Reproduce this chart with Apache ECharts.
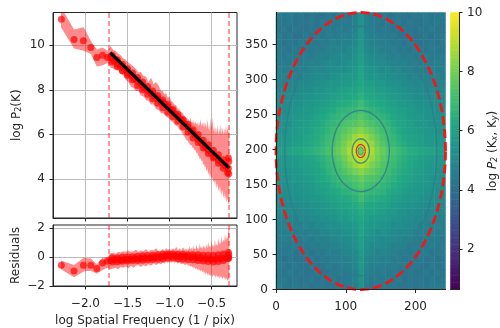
<!DOCTYPE html>
<html><head><meta charset="utf-8">
<style>html,body{margin:0;padding:0;background:#fff}#c{width:500px;height:328px}</style>
<script src="https://cdn.jsdelivr.net/npm/echarts@6/dist/echarts.min.js"></script>
</head><body><div id="c"></div>
<script>
const bandX=[-2.29,-2.135,-2.02,-1.936,-1.864,-1.797,-1.738,
-1.70,-1.67,-1.64,-1.61,-1.58,-1.55,-1.52,-1.49,-1.46,-1.43,-1.40,-1.37,-1.34,-1.31,-1.28,-1.25,-1.22,-1.19,-1.16,-1.13,-1.10,
-1.08,-1.06,-1.04,-1.02,-1.00,-0.98,-0.96,-0.94,-0.92,-0.90,-0.88,-0.86,-0.84,-0.82,-0.80,
-0.79,-0.78,-0.77,-0.76,-0.75,-0.74,-0.73,-0.72,-0.71,-0.70,
-0.69,-0.68,-0.67,-0.66,-0.65,-0.64,-0.63,-0.62,-0.61,-0.60,
-0.59,-0.58,-0.57,-0.56,-0.55,-0.54,-0.53,-0.52,-0.51,-0.50,
-0.49,-0.48,-0.47,-0.46,-0.45,-0.44,-0.43,-0.42,-0.41,-0.40,
-0.39,-0.38,-0.37,-0.36,-0.35,-0.34,-0.33,-0.32,-0.31,-0.30,-0.29];
const powerHi=[11.7,10.7,10.8,10.2,9.8,9.9,9.75,
9.95,9.78,9.75,9.62,9.55,9.40,9.35,9.22,9.15,9.05,8.95,8.78,8.80,8.62,8.60,8.35,8.55,8.25,8.35,8.20,7.95,
7.95,7.80,7.85,7.65,7.70,7.50,7.45,7.35,7.30,7.15,7.10,7.00,6.95,6.80,6.75,
6.75,6.65,6.70,6.60,6.75,6.55,6.60,6.50,6.65,6.45,
6.60,6.45,6.55,6.35,6.60,6.40,6.70,6.35,6.55,6.35,
6.60,6.30,6.55,6.25,6.70,6.20,6.45,6.15,6.75,6.30,
6.80,6.15,6.40,6.00,6.35,6.05,6.45,5.95,6.30,6.05,
6.45,6.00,6.35,5.95,6.30,6.00,6.40,6.05,6.35,6.00,6.50];
const powerLo=[10.8,9.85,9.75,9.6,9.05,9.1,9.2,
9.00,8.95,8.90,8.85,8.70,8.65,8.45,8.35,8.15,8.10,7.95,7.95,7.75,7.70,7.55,7.50,7.35,7.35,7.15,7.10,6.95,
6.95,6.90,6.80,6.75,6.70,6.60,6.55,6.45,6.40,6.35,6.20,6.15,6.00,5.90,5.75,
5.75,5.70,5.60,5.60,5.50,5.55,5.40,5.45,5.35,5.30,
5.30,5.15,5.20,5.05,5.05,4.90,4.95,4.80,4.85,4.65,
4.70,4.50,4.60,4.35,4.50,4.20,4.35,4.05,4.25,3.95,
4.10,3.85,4.00,3.70,3.95,3.60,3.80,3.45,3.70,3.35,
3.60,3.25,3.55,3.15,3.40,3.05,3.30,2.95,3.15,2.90,2.85];
const residHi=[-0.25,-0.55,-0.05,-0.1,-0.5,-0.05,0,
0.25,0.30,0.20,0.35,0.30,0.40,0.35,0.45,0.35,0.40,0.50,0.35,0.45,0.40,0.55,0.35,0.50,0.45,0.60,0.40,0.45,
0.55,0.45,0.60,0.50,0.55,0.45,0.60,0.50,0.70,0.45,0.60,0.45,0.65,0.50,0.55,
0.45,0.60,0.50,0.75,0.50,0.65,0.45,0.80,0.55,0.60,
0.50,0.85,0.55,0.65,0.50,0.95,0.60,0.70,0.55,0.80,
0.60,0.75,0.55,0.85,0.60,1.05,0.65,0.80,0.60,1.15,
0.70,0.85,0.65,1.20,0.75,0.90,0.75,1.30,0.85,1.05,
0.90,1.45,0.95,1.20,1.05,1.60,1.10,1.40,1.25,1.85,1.95];
const residLo=[-0.85,-1.4,-1.0,-0.95,-1.15,-0.9,-0.75,
-0.85,-0.80,-0.75,-0.85,-0.70,-0.75,-0.65,-0.80,-0.60,-0.75,-0.60,-0.55,-0.70,-0.55,-0.65,-0.50,-0.60,-0.45,-0.55,-0.45,-0.50,
-0.40,-0.45,-0.35,-0.40,-0.35,-0.40,-0.30,-0.40,-0.35,-0.45,-0.40,-0.50,-0.45,-0.55,-0.50,
-0.55,-0.50,-0.65,-0.55,-0.70,-0.60,-0.75,-0.65,-0.80,-0.70,
-0.85,-0.75,-0.90,-0.80,-0.95,-0.85,-1.00,-0.90,-1.05,-0.95,
-1.15,-1.00,-1.20,-1.05,-1.25,-1.10,-1.30,-1.15,-1.35,-1.20,
-1.40,-1.20,-1.35,-1.25,-1.45,-1.25,-1.40,-1.30,-1.50,-1.30,
-1.45,-1.35,-1.55,-1.35,-1.50,-1.40,-1.60,-1.45,-1.65,-1.50,-1.75];
const pointX=[-2.286,-2.135,-2.024,-1.936,-1.864,-1.797,-1.738,
-1.70,-1.66,-1.62,-1.58,-1.54,-1.50,-1.46,-1.42,-1.38,-1.34,-1.30,-1.26,-1.22,-1.18,-1.14,-1.10,-1.06,-1.02,-0.98,-0.94,-0.90,-0.86,-0.82,-0.78,-0.74,-0.70,-0.66,-0.62,-0.58,-0.54,-0.50,-0.46,-0.42,-0.38,-0.34,-0.30,
-0.31,-0.30,-0.296,-0.296,
-1.68,-1.62,-1.56,-1.50,-1.44,-1.38,-1.32,-1.26,-1.20,-1.14,-1.08,-1.02,-0.96,-0.90,-0.84,-0.78,-0.72,-0.66,-0.60,-0.54,-0.48,-0.42,-0.36,
-1.68,-1.62,-1.56,-1.50,-1.44,-1.38,-1.32,-1.26,-1.20,-1.14,-1.08,-1.02,-0.96,-0.90,-0.84,-0.78,-0.72,-0.66,-0.60,-0.54,-0.48,-0.42,-0.36];
const pointPower=[11.16,10.25,10.2,9.9,9.45,9.55,9.45,
9.45,9.30,9.15,9.05,8.90,8.75,8.65,8.50,8.40,8.25,8.10,7.98,7.85,7.72,7.60,7.48,7.38,7.25,7.10,6.95,6.80,6.65,6.50,6.33,6.15,5.98,5.80,5.62,5.45,5.30,5.15,5.00,4.87,4.74,4.62,4.50,
4.30,4.95,4.80,4.25,
9.55,9.35,9.15,8.95,8.75,8.55,8.35,8.15,7.95,7.75,7.55,7.35,7.12,6.90,6.68,6.45,6.22,6.00,5.75,5.55,5.30,5.10,4.88,
9.25,9.05,8.85,8.65,8.45,8.20,8.00,7.80,7.60,7.40,7.20,7.00,6.80,6.60,6.35,6.10,5.85,5.65,5.40,5.15,4.95,4.72,4.50];
const pointResid=[-0.57,-0.96,-0.57,-0.57,-0.79,-0.42,-0.30,
-0.25,-0.20,-0.20,-0.22,-0.18,-0.15,-0.15,-0.12,-0.12,-0.10,-0.08,-0.08,-0.05,-0.03,0,0.02,0.05,0.08,0.08,0.06,0.05,0.05,0.05,0.03,0,-0.03,-0.05,-0.08,-0.12,-0.13,-0.15,-0.14,-0.12,-0.10,-0.07,-0.05,
-0.10,0.30,0.15,-0.08,
-0.05,-0.05,0,0,0.02,0.05,0.08,0.10,0.12,0.15,0.18,0.20,0.20,0.18,0.18,0.15,0.15,0.15,0.12,0.12,0.12,0.15,0.20,
-0.35,-0.33,-0.30,-0.28,-0.25,-0.25,-0.22,-0.20,-0.18,-0.15,-0.12,-0.08,-0.08,-0.12,-0.15,-0.18,-0.20,-0.25,-0.28,-0.32,-0.35,-0.32,-0.25];
const fitX=[-1.705,-0.29];
const fitY=[9.66,4.5];
const fitRange=[-1.72,-0.296];
const freqTicks=[-2,-1.5,-1,-0.5];
const powerTicks=[4,6,8,10];
const residTicks=[-2,0,2];
const colorTicks=[2,4,6,8,10];
const specXTicks=[0,100,200];
const specYTicks=[0,50,100,150,200,250,300,350];
const specCenter=[121.5,198];
const redEllipses=[[121.5,198],[6.5,9.5]];
const contourEllipses=[[109,178],[41,58],[12.3,17.5],[4,6]];
// upper half of the 2-D spectrum (top row first); a real image's spectrum is point-symmetric
const specUpper=[
[4.6,4.4,4.5,4.3,4.4,4.2,4.4,4.3,4.2,4.4,4.3,4.5,4.4,4.3,4.6,5.3,4.7,4.4,4.3,4.5,4.3,4.2,4.4,4.3,4.2,4.4,4.3,4.5,4.3,4.4,4.6],
[4.4,4.3,4.5,4.2,4.4,4.3,4.4,4.2,4.5,4.3,4.5,4.4,4.5,4.4,4.7,5.4,4.8,4.5,4.4,4.3,4.5,4.3,4.4,4.2,4.4,4.3,4.2,4.4,4.3,4.5,4.4],
[4.3,4.5,4.2,4.4,4.3,4.2,4.4,4.3,4.4,4.5,4.4,4.6,4.5,4.6,4.8,5.5,4.7,4.6,4.4,4.5,4.4,4.3,4.2,4.4,4.3,4.2,4.4,4.3,4.5,4.3,4.4],
[4.5,4.3,4.4,4.2,4.3,4.4,4.2,4.5,4.4,4.6,4.5,4.6,4.7,4.6,4.9,5.6,4.9,4.7,4.6,4.5,4.4,4.5,4.3,4.2,4.4,4.2,4.3,4.4,4.2,4.4,4.5],
[4.4,4.2,4.4,4.3,4.5,4.3,4.5,4.4,4.6,4.5,4.7,4.6,4.8,4.8,5.0,5.6,5.0,4.8,4.7,4.6,4.6,4.4,4.5,4.3,4.5,4.3,4.2,4.3,4.4,4.2,4.5],
[4.5,4.4,4.3,4.5,4.4,4.5,4.4,4.6,4.5,4.7,4.8,4.9,4.8,5.0,5.2,5.7,5.1,4.9,4.9,4.7,4.6,4.7,4.4,4.5,4.3,4.5,4.4,4.3,4.5,4.4,4.4],
[4.6,4.4,4.6,4.4,4.5,4.6,4.5,4.7,4.8,4.7,4.9,5.0,5.1,5.0,5.3,5.8,5.3,5.1,5.0,4.9,4.8,4.6,4.7,4.5,4.6,4.4,4.5,4.6,4.4,4.5,4.6],
[4.5,4.6,4.5,4.7,4.5,4.7,4.8,4.7,4.9,5.0,5.1,5.0,5.2,5.3,5.4,5.9,5.4,5.2,5.1,5.1,4.9,4.8,4.7,4.8,4.5,4.7,4.5,4.6,4.5,4.7,4.6],
[4.7,4.5,4.7,4.6,4.8,4.7,4.9,5.0,4.9,5.1,5.2,5.3,5.2,5.4,5.6,6.0,5.5,5.4,5.3,5.1,5.2,4.9,5.0,4.7,4.8,4.6,4.7,4.5,4.7,4.6,4.7],
[4.7,4.8,4.6,4.8,4.7,4.9,5.0,5.1,5.2,5.1,5.3,5.4,5.5,5.6,5.7,6.1,5.7,5.5,5.5,5.3,5.2,5.2,5.0,5.0,4.8,4.9,4.7,4.8,4.6,4.8,4.7],
[4.8,4.7,4.9,4.8,5.0,5.0,5.1,5.2,5.3,5.4,5.5,5.6,5.7,5.7,5.9,6.2,5.9,5.8,5.6,5.6,5.4,5.3,5.3,5.1,5.1,4.9,5.0,4.8,4.9,4.7,4.9],
[4.9,4.8,5.0,4.9,5.1,5.2,5.2,5.4,5.4,5.6,5.6,5.8,5.9,6.0,6.1,6.4,6.1,6.0,5.8,5.8,5.6,5.5,5.4,5.3,5.2,5.1,5.1,4.9,5.0,4.8,5.0],
[5.0,5.0,5.1,5.1,5.2,5.3,5.4,5.5,5.6,5.7,5.9,6.0,6.1,6.2,6.3,6.6,6.3,6.2,6.1,6.0,5.8,5.7,5.6,5.4,5.4,5.2,5.2,5.1,5.1,5.0,5.1],
[5.1,5.1,5.2,5.3,5.3,5.5,5.5,5.7,5.8,5.9,6.1,6.3,6.4,6.5,6.6,7.0,6.6,6.4,6.3,6.2,6.0,5.9,5.7,5.6,5.5,5.4,5.3,5.3,5.2,5.1,5.2],
[5.2,5.2,5.3,5.4,5.5,5.6,5.7,5.8,6.0,6.2,6.3,6.6,6.7,6.8,6.9,7.3,6.9,6.7,6.6,6.4,6.2,6.0,5.9,5.8,5.6,5.5,5.4,5.4,5.3,5.2,5.3],
[5.2,5.3,5.4,5.5,5.6,5.7,5.8,6.0,6.2,6.4,6.6,6.8,7.0,7.1,7.2,7.5,7.2,7.0,6.9,6.7,6.5,6.2,6.0,5.9,5.7,5.6,5.5,5.4,5.4,5.3,5.3],
[5.3,5.4,5.4,5.6,5.7,5.8,6.0,6.1,6.3,6.6,6.8,7.0,7.3,7.4,7.5,7.8,7.5,7.3,7.1,6.9,6.7,6.4,6.2,6.0,5.8,5.7,5.6,5.5,5.4,5.4,5.4],
[5.4,5.4,5.5,5.6,5.8,5.9,6.1,6.3,6.5,6.7,7.0,7.3,7.5,7.8,8.0,8.3,8.0,7.7,7.4,7.1,6.9,6.6,6.3,6.1,5.9,5.8,5.7,5.5,5.5,5.4,5.4],
[5.5,5.5,5.6,5.7,5.8,6.0,6.2,6.4,6.6,6.9,7.1,7.4,7.8,8.1,8.6,8.9,8.6,8.1,7.7,7.3,7.0,6.8,6.5,6.2,6.0,5.9,5.8,5.6,5.6,5.5,5.5],
[5.6,5.6,5.7,5.8,5.9,6.1,6.3,6.5,6.7,7.0,7.3,7.6,8.0,8.5,9.0,9.0,9.0,8.5,7.9,7.5,7.2,6.9,6.6,6.4,6.1,6.0,5.8,5.7,5.6,5.6,5.6],
[5.9,5.9,6.0,6.1,6.2,6.4,6.5,6.7,6.9,7.2,7.5,7.8,8.2,8.8,9.2,7.9,9.2,8.8,8.2,7.8,7.5,7.2,6.9,6.7,6.5,6.4,6.2,6.1,6.0,5.9,5.9]
];
const viridis=['#440154','#482475','#414487','#355f8d','#2a788e','#21918c','#22a884','#44bf70','#7ad151','#bddf26','#fde725'];
const colorMin=0.63,colorMax=10;

const font='DejaVu Sans',ink='#262626',fs=12;
const fmt=v=>(v<0?'\u2212':'')+Math.abs(v).toFixed(1);
const fmtInt=v=>(v<0?'\u2212':'')+Math.abs(v);
const split={show:true,lineStyle:{color:'#bcbcbc',width:1}};
const lab=(o)=>Object.assign({color:ink,fontFamily:font,fontSize:fs,margin:8},o||{});
const line={show:true,onZero:false,lineStyle:{color:ink,width:1}};
const tick=(c)=>({show:true,length:3.5,lineStyle:{color:ink,width:1},customValues:c});
const nameStyle={color:ink,fontFamily:font,fontSize:fs};

const nCols=specUpper[0].length,nRows=specUpper.length*2-1;
const heat=[];
specUpper.forEach((row,i)=>{const r=nRows-1-i;row.forEach((v,c)=>{heat.push([c,r,v]);if(i<specUpper.length-1)heat.push([nCols-1-c,i,v]);});});
const range=n=>Array.from({length:n},(_,i)=>i);
const ellipse=(sx,sy)=>range(181).map(i=>{const a=i/180*2*Math.PI;return [specCenter[0]+sx*Math.cos(a),specCenter[1]+sy*Math.sin(a)];});
const levels=range(80).map(i=>colorMin+(colorMax-colorMin)*(i+0.5)/80);

function band(name,lo,hi,xi,yi){
  return {type:'custom',name,xAxisIndex:xi,yAxisIndex:yi,clip:true,silent:true,z:2,
    encode:{x:0,y:[1,2]},
    data:bandX.map((x,i)=>[x,lo[i],hi[i]]),
    renderItem:(p,api)=>{
      if(p.dataIndex!==0) return null;
      const upper=bandX.map((x,i)=>api.coord([x,hi[i]]));
      const lower=bandX.map((x,i)=>api.coord([x,lo[i]])).reverse();
      return {type:'polygon',shape:{points:upper.concat(lower)},style:{fill:'rgba(255,0,0,0.45)'}};
    },
    markLine:{silent:true,symbol:'none',label:{show:false},lineStyle:{color:'rgba(255,0,0,0.5)',width:1.6,type:[5,3]},data:fitRange.map(x=>({xAxis:x}))}
  };
}
const dotColor='rgba(255,0,0,0.85)';
const series=[
  band('P band',powerLo,powerHi,0,0),
  {type:'scatter',name:'P2',xAxisIndex:0,yAxisIndex:0,symbolSize:7,itemStyle:{color:dotColor},data:pointX.map((x,i)=>[x,pointPower[i]]),z:3},
  {type:'line',name:'fit',xAxisIndex:0,yAxisIndex:0,symbol:'none',lineStyle:{color:'#000',width:3.2},data:fitX.map((x,i)=>[x,fitY[i]]),z:4},
  band('R band',residLo,residHi,1,1),
  {type:'scatter',name:'Residuals',xAxisIndex:1,yAxisIndex:1,symbolSize:7,itemStyle:{color:dotColor},data:pointX.map((x,i)=>[x,pointResid[i]]),z:3},
  {type:'heatmap',name:'spectrum',xAxisIndex:3,yAxisIndex:3,data:heat,progressive:0,z:2},
  ...contourEllipses.map((e,i)=>({type:'line',xAxisIndex:2,yAxisIndex:2,symbol:'none',lineStyle:{color:i===3?'rgba(40,150,140,0.8)':'rgba(47,122,140,0.8)',width:i===3?1:1.4},data:ellipse(e[0],e[1]),z:3})),
  {type:'line',xAxisIndex:2,yAxisIndex:2,symbol:'none',lineStyle:{color:'#f01818',width:2.8,type:[9,4]},data:ellipse(redEllipses[0][0],redEllipses[0][1]),z:4},
  {type:'line',xAxisIndex:2,yAxisIndex:2,symbol:'none',lineStyle:{color:'#e8262a',width:1.2},data:ellipse(redEllipses[1][0],redEllipses[1][1]),z:4},
  {type:'heatmap',name:'colorbar',xAxisIndex:4,yAxisIndex:4,data:levels.map((v,i)=>[0,i,v]),progressive:0,z:2}
];
const heatIdx=series.map((s,i)=>s.type==='heatmap'?i:-1).filter(i=>i>=0);

const option={
  animation:false,backgroundColor:'#fff',
  textStyle:{fontFamily:font},
  visualMap:{show:false,type:'continuous',seriesIndex:heatIdx,min:colorMin,max:colorMax,inRange:{color:viridis}},
  grid:[
    {left:53,top:12.5,width:184,height:205.5,show:true,borderColor:ink,borderWidth:1,backgroundColor:'transparent'},
    {left:53,top:225,width:184,height:64.5,show:true,borderColor:ink,borderWidth:1,backgroundColor:'transparent'},
    {left:276,top:12.5,width:169.5,height:277},
    {left:450.5,top:12.5,width:9,height:277}
  ],
  xAxis:[
    {type:'value',gridIndex:0,min:-2.385,max:-0.198,axisLine:line,axisTick:tick(freqTicks),axisLabel:{show:false,customValues:freqTicks},splitLine:split},
    {type:'value',gridIndex:1,min:-2.385,max:-0.198,axisLine:line,axisTick:tick(freqTicks),axisLabel:lab({margin:12,customValues:freqTicks,formatter:fmt}),splitLine:split,
      name:'log Spatial Frequency (1 / pix)',nameLocation:'middle',nameGap:29,nameTextStyle:nameStyle},
    {type:'value',gridIndex:2,min:0,max:243,axisLine:line,axisTick:tick(specXTicks),axisLabel:lab({margin:11,customValues:specXTicks,formatter:fmtInt}),splitLine:{show:false},z:10},
    {type:'category',gridIndex:2,position:'top',data:range(nCols),axisLine:{show:true,lineStyle:{color:ink,width:1}},axisTick:{show:false},axisLabel:{show:false},splitLine:{show:false},z:10},
    {type:'category',gridIndex:3,data:[0],axisLine:{show:true,lineStyle:{color:ink,width:1}},axisTick:{show:false},axisLabel:{show:false},splitLine:{show:false},z:10}
  ],
  yAxis:[
    {type:'value',gridIndex:0,min:2.27,max:11.46,axisLine:line,axisTick:tick(powerTicks),axisLabel:lab({customValues:powerTicks,formatter:fmtInt}),splitLine:split,
      name:'log P{s|2}(K)',nameLocation:'middle',nameGap:30,nameTextStyle:Object.assign({},nameStyle,{rich:{s:{fontSize:8,fontFamily:font,color:ink,verticalAlign:'bottom',lineHeight:12}}})},
    {type:'value',gridIndex:1,min:-2,max:2.2,axisLine:line,axisTick:tick(residTicks),axisLabel:lab({customValues:residTicks,formatter:fmtInt}),splitLine:split,
      name:'Residuals',nameLocation:'middle',nameGap:31,nameTextStyle:nameStyle},
    {type:'value',gridIndex:2,min:0,max:396,axisLine:line,axisTick:tick(specYTicks),axisLabel:lab({customValues:specYTicks,formatter:fmtInt}),splitLine:{show:false},z:10},
    {type:'category',gridIndex:2,position:'right',data:range(nRows),axisLine:{show:true,lineStyle:{color:ink,width:1}},axisTick:{show:false},axisLabel:{show:false},splitLine:{show:false},z:10},
    {type:'category',gridIndex:3,position:'left',data:levels.map((_,i)=>i),axisLine:{show:false},axisTick:{show:false},axisLabel:{show:false},splitLine:{show:false}},
    {type:'value',gridIndex:3,position:'right',min:colorMin,max:colorMax,axisLine:{show:true,onZero:false,lineStyle:{color:ink,width:1}},axisTick:tick(colorTicks),axisLabel:lab({customValues:colorTicks,formatter:fmtInt}),splitLine:{show:false},z:10,
      name:'log {i|P}{s|2} (K{si|x}, K{si|y})',nameLocation:'middle',nameGap:28,nameRotate:90,
      nameTextStyle:Object.assign({},nameStyle,{rich:{i:{fontStyle:'italic',fontSize:fs,fontFamily:font,color:ink},s:{fontSize:8,fontFamily:font,color:ink,fontStyle:'italic',verticalAlign:'bottom',lineHeight:12},si:{fontSize:8,fontFamily:font,color:ink,fontStyle:'italic',verticalAlign:'bottom',lineHeight:12}}})}
  ],
  series
};
const chart=echarts.init(document.getElementById('c'),null,{renderer:'canvas'});
chart.setOption(option);
</script></body></html>
